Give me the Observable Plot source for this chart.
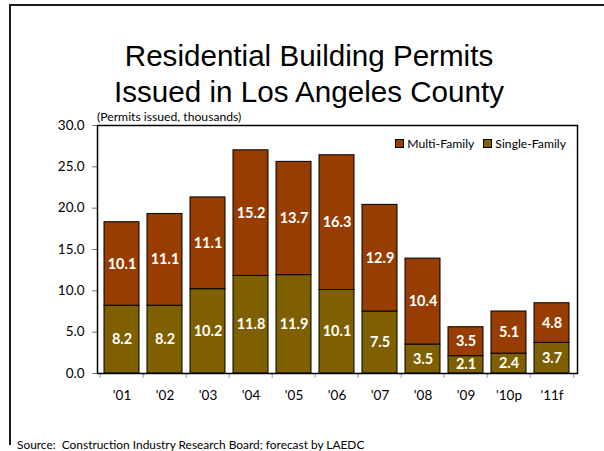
<!DOCTYPE html>
<html>
<head>
<meta charset="utf-8">
<script src="https://cdn.jsdelivr.net/npm/d3@7"></script>
<script src="https://cdn.jsdelivr.net/npm/@observablehq/plot@0.6"></script>
<style>
  body { margin: 0; background: #fff; }
  #wrap { position: relative; width: 604px; height: 451px; overflow: hidden; background: #fff; }
  #border { position: absolute; left: 9px; top: 4px; width: 600px; height: 441px; border-left: 2px solid #1c1c1c; border-top: 2px solid #1c1c1c; box-sizing: border-box; }
  #title { position: absolute; left: 0; top: 38px; width: 618px; text-align: center; font-family: "Liberation Sans", Arial, sans-serif; font-size: 29.6px; line-height: 35.5px; color: #000; }
  #sub { position: absolute; left: 97px; top: 109px; font-family: Lato, "Open Sans", sans-serif; font-size: 12.2px; color: #000; }
  #legend { position: absolute; top: 136px; right: 38px; font-family: Lato, "Open Sans", sans-serif; font-size: 12.2px; color: #000; display: flex; align-items: center; white-space: nowrap; }
  .sw { display: inline-block; width: 7px; height: 7px; border: 1px solid #000; margin-right: 3px; }
  #source { position: absolute; left: 17px; top: 437px; font-family: Lato, "Open Sans", sans-serif; font-size: 11.9px; color: #000; white-space: nowrap; }
  #chart { position: absolute; left: 0; top: 0; }
</style>
</head>
<body>
<div id="wrap">
  <div id="chart"></div>
  <div id="border"></div>
  <div id="title">Residential Building Permits<br>Issued in Los Angeles County</div>
  <div id="sub">(Permits issued, thousands)</div>
  <div id="legend"></div>
  <div id="source">Source:&nbsp; Construction Industry Research Board; forecast by LAEDC</div>
</div>
<script>
const years = ["'01", "'02", "'03", "'04", "'05", "'06", "'07", "'08", "'09", "'10p", "'11f"];
const singleFamily = [8.2, 8.2, 10.2, 11.8, 11.9, 10.1, 7.5, 3.5, 2.1, 2.4, 3.7];
const multiFamily = [10.1, 11.1, 11.1, 15.2, 13.7, 16.3, 12.9, 10.4, 3.5, 5.1, 4.8];
const seriesNames = ["Single-Family", "Multi-Family"];
const yTicks = [0, 5, 10, 15, 20, 25, 30];
const colors = {"Single-Family": "#7F6000", "Multi-Family": "#983D02"};

const rows = [];
years.forEach((y, i) => {
  rows.push({year: y, series: "Single-Family", value: singleFamily[i]});
  rows.push({year: y, series: "Multi-Family", value: multiFamily[i]});
});

const W = 604, H = 451, mL = 97, mR = 27, mT = 125, mB = 78;
const step = (W - mL - mR) / years.length;
const pad = 0.175;

const plot = Plot.plot({
  width: W, height: H,
  marginLeft: mL, marginRight: mR, marginTop: mT, marginBottom: mB,
  style: {fontFamily: "Lato, 'Open Sans', sans-serif", fontSize: "13.5px", color: "#000", background: "transparent"},
  x: {domain: years, paddingInner: pad, paddingOuter: pad / 2, label: null},
  y: {domain: [0, 30], label: null},
  color: {domain: seriesNames, range: seriesNames.map(s => colors[s])},
  marks: [
    Plot.barY(rows, Plot.stackY({x: "year", y: "value", fill: "series", order: seriesNames, stroke: "#000", strokeWidth: 1})),
    Plot.text(rows, Plot.stackY({x: "year", y: "value", z: "series", order: seriesNames, text: d => d.value.toFixed(1), fill: "#fff", fontWeight: "bold", fontSize: 14.5})),
    Plot.axisY({ticks: yTicks, tickFormat: d => d.toFixed(1), tickSize: 5, tickPadding: 8, stroke: "#777", fontSize: 13.5}),
    Plot.axisX({tickSize: 0, tickPadding: 17, fontSize: 13.5}),
    Plot.ruleX(years, {x: d => d, y1: 0, y2: -0.6, dx: -step / 2, stroke: "#999"}),
    Plot.ruleX(years.slice(-1), {x: d => d, y1: 0, y2: -0.6, dx: step / 2, stroke: "#999"}),
    Plot.frame({stroke: "#000", strokeWidth: 1.5})
  ]
});
document.getElementById("chart").appendChild(plot);

const legend = document.getElementById("legend");
["Multi-Family", "Single-Family"].forEach((s, i) => {
  const item = document.createElement("span");
  item.style.display = "inline-flex";
  item.style.alignItems = "center";
  item.style.marginRight = i === 0 ? "9px" : "0";
  const sw = document.createElement("span");
  sw.className = "sw";
  sw.style.background = colors[s];
  item.appendChild(sw);
  item.appendChild(document.createTextNode(s));
  legend.appendChild(item);
});
</script>
</body>
</html>
